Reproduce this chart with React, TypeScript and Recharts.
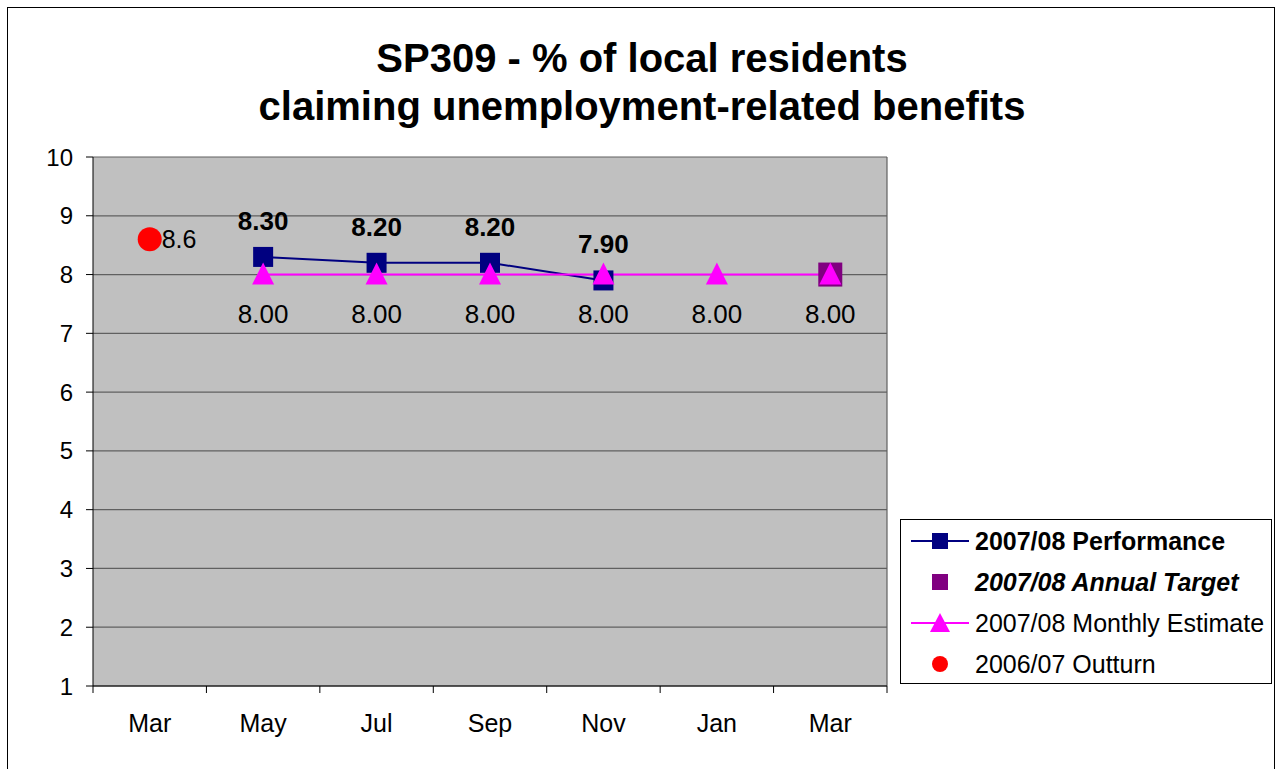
import React from "react";
import { CartesianGrid, LabelList, Line, LineChart, XAxis, YAxis } from "recharts";

const months = ["Mar", "May", "Jul", "Sep", "Nov", "Jan", "Mar"];
const performance = [null, 8.3, 8.2, 8.2, 7.9, null, null];
const annualTarget = [null, null, null, null, null, null, 8.0];
const monthlyEstimate = [null, 8.0, 8.0, 8.0, 8.0, 8.0, 8.0];
const outturn = [8.6, null, null, null, null, null, null];
const yTicks = [1, 2, 3, 4, 5, 6, 7, 8, 9, 10];

const data = months.map((m, i) => ({
  month: m,
  performance: performance[i],
  target: annualTarget[i],
  estimate: monthlyEstimate[i],
  outturn: outturn[i],
}));

const FONT = '"Liberation Sans", Arial, sans-serif';
const NAVY = "#000080";
const PURPLE = "#800080";
const MAGENTA = "#FF00FF";
const RED = "#FF0000";

// plot is 794px wide, 7 categories -> half a band of padding each side
const HALF_BAND = 794 / 7 / 2;

const Square = (size: number, color: string) => (props: any) => {
  const { cx, cy, index } = props;
  if (cx == null || cy == null) return <g key={`s-${index}`} />;
  return <rect key={`s-${index}`} x={cx - size / 2} y={cy - size / 2} width={size} height={size} fill={color} />;
};

const Triangle = (props: any) => {
  const { cx, cy, index } = props;
  if (cx == null || cy == null) return <g key={`t-${index}`} />;
  return <path key={`t-${index}`} d={`M${cx},${cy - 12} L${cx + 11},${cy + 10} L${cx - 11},${cy + 10} Z`} fill={MAGENTA} />;
};

const Circle = (props: any) => {
  const { cx, cy, index } = props;
  if (cx == null || cy == null) return <g key={`c-${index}`} />;
  return <circle key={`c-${index}`} cx={cx} cy={cy} r={12} fill={RED} />;
};

const MonthTick = (props: any) => {
  const { x, y, payload, index } = props;
  const last = index === months.length - 1;
  return (
    <g>
      <line x1={x - HALF_BAND} x2={x - HALF_BAND} y1={y} y2={y + 7} stroke="#000" />
      {last && <line x1={x + HALF_BAND} x2={x + HALF_BAND} y1={y} y2={y + 7} stroke="#000" />}
      <text x={x} y={y + 46} textAnchor="middle" fontSize={25} fontFamily={FONT} fill="#000">
        {payload.value}
      </text>
    </g>
  );
};

const fmt2 = (v: any) => (v == null ? "" : Number(v).toFixed(2));

const legendRows = [
  { label: "2007/08 Performance", color: NAVY, shape: "square", line: true, style: { fontWeight: "bold" } },
  { label: "2007/08 Annual Target", color: PURPLE, shape: "square", line: false, style: { fontWeight: "bold", fontStyle: "italic" } },
  { label: "2007/08 Monthly Estimate", color: MAGENTA, shape: "triangle", line: true, style: {} },
  { label: "2006/07 Outturn", color: RED, shape: "circle", line: false, style: {} },
];

export default function App() {
  return (
    <div
      style={{
        position: "absolute",
        left: 7,
        top: 7,
        width: 1266,
        height: 762,
        border: "1px solid #000",
        background: "#fff",
        fontFamily: FONT,
      }}
    >
      <div
        style={{
          position: "absolute",
          left: 0,
          width: 1268,
          top: 26,
          textAlign: "center",
          fontSize: 40,
          fontWeight: "bold",
          lineHeight: "48px",
          color: "#000",
        }}
      >
        SP309 - % of local residents
        <br />
        claiming unemployment-related benefits
      </div>
      <LineChart
        width={1266}
        height={762}
        data={data}
        margin={{ top: 149, right: 387, bottom: 34, left: 25 }}
      >
        <CartesianGrid
          fill="#C0C0C0"
          stroke="#606060"
          strokeWidth={1.2}
          verticalCoordinatesGenerator={({ offset }: any) => [offset.left + offset.width]}
        />
        <XAxis
          dataKey="month"
          allowDuplicatedCategory
          interval={0}
          padding={{ left: HALF_BAND, right: HALF_BAND }}
          tickLine={false}
          tickSize={0}
          tickMargin={0}
          height={50}
          axisLine={{ stroke: "#000" }}
          tick={<MonthTick />}
        />
        <YAxis
          domain={[1, 10]}
          ticks={yTicks}
          width={60}
          tickSize={7}
          tickMargin={13}
          axisLine={{ stroke: "#000" }}
          tickLine={{ stroke: "#000" }}
          tick={{ fontSize: 24, fontFamily: FONT, fill: "#000" }}
          interval={0}
        />
        <Line
          dataKey="performance"
          stroke={NAVY}
          strokeWidth={2}
          dot={Square(20, NAVY)}
          activeDot={false}
          isAnimationActive={false}
        >
          <LabelList
            dataKey="performance"
            position="top"
            offset={27}
            formatter={fmt2}
            style={{ fontSize: 26, fontWeight: "bold", fontFamily: FONT, fill: "#000" }}
          />
        </Line>
        <Line
          dataKey="target"
          stroke="none"
          dot={Square(24, PURPLE)}
          activeDot={false}
          isAnimationActive={false}
        />
        <Line
          dataKey="estimate"
          stroke={MAGENTA}
          strokeWidth={2}
          dot={Triangle}
          activeDot={false}
          isAnimationActive={false}
        >
          <LabelList
            dataKey="estimate"
            position="bottom"
            offset={30}
            formatter={fmt2}
            style={{ fontSize: 26, fontFamily: FONT, fill: "#000" }}
          />
        </Line>
        <Line
          dataKey="outturn"
          stroke="none"
          dot={Circle}
          activeDot={false}
          isAnimationActive={false}
        >
          <LabelList
            dataKey="outturn"
            position="right"
            offset={12}
            style={{ fontSize: 25, fontFamily: FONT, fill: "#000" }}
          />
        </Line>
      </LineChart>
      <div
        style={{
          position: "absolute",
          left: 892,
          top: 511,
          width: 372,
          height: 165,
          border: "1px solid #000",
          background: "#fff",
          boxSizing: "border-box",
        }}
      >
        {legendRows.map((r, i) => (
          <div
            key={r.label}
            style={{ position: "absolute", left: 0, top: 8 + i * 41, height: 26, display: "flex", alignItems: "center" }}
          >
            <svg width={74} height={26} style={{ display: "block" }}>
              {r.line && <line x1={10} x2={68} y1={13} y2={13} stroke={r.color} strokeWidth={2} />}
              {r.shape === "square" && <rect x={39 - 8} y={5} width={16} height={16} fill={r.color} />}
              {r.shape === "triangle" && <path d="M39,3 L49,22 L29,22 Z" fill={r.color} />}
              {r.shape === "circle" && <circle cx={39} cy={13} r={8} fill={r.color} />}
            </svg>
            <span style={{ fontSize: 25, color: "#000", whiteSpace: "nowrap", ...r.style }}>{r.label}</span>
          </div>
        ))}
      </div>
    </div>
  );
}
